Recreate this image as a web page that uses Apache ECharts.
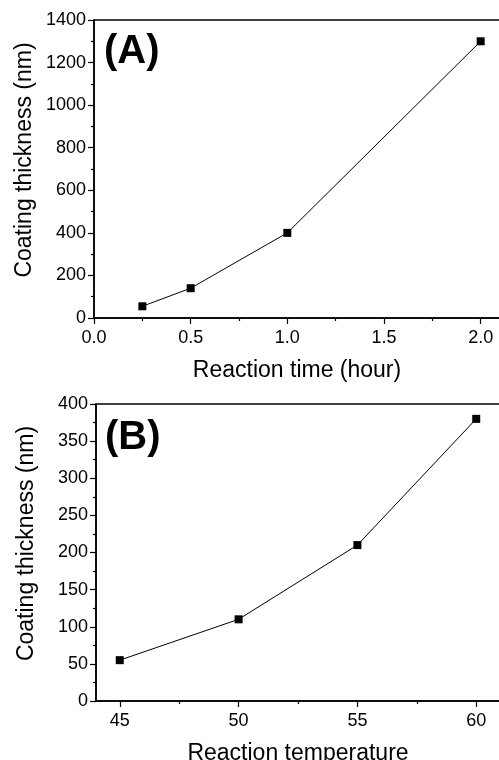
<!DOCTYPE html>
<html>
<head>
<meta charset="utf-8">
<script src="https://cdn.jsdelivr.net/npm/echarts@6/dist/echarts.min.js"></script>
<style>
  html, body { margin: 0; padding: 0; background: #fff; }
  #main { width: 499px; height: 760px; }
</style>
</head>
<body>
<div id="main"></div>
<script>
// panel A: thickness vs reaction time
const timeHours = [0.25, 0.5, 1.0, 2.0];
const thicknessByTime = [55, 140, 400, 1300];
const timeTicks = [0, 0.5, 1.0, 1.5, 2.0];
const timeMinorTicks = [0.25, 0.75, 1.25, 1.75];

// panel B: thickness vs reaction temperature
const temperatures = [45, 50, 55, 60];
const thicknessByTemp = [55, 110, 210, 380];
const tempTicks = [45, 50, 55, 60];
const tempMinorTicks = [47.5, 52.5, 57.5];

const font = 'Arial, "Liberation Sans", sans-serif';
const black = '#000';

const chart = echarts.init(document.getElementById('main'));

function majorX(gridIndex, min, max, ticks, name, fmt) {
  return {
    type: 'value',
    gridIndex: gridIndex,
    min: min,
    max: max,
    position: 'bottom',
    name: name,
    nameLocation: 'middle',
    nameGap: 41,
    nameMoveOverlap: false,
    nameTextStyle: { fontFamily: font, fontSize: 23, color: black },
    axisLine: { show: true, onZero: false, lineStyle: { color: black, width: 1.5 } },
    axisTick: { show: true, customValues: ticks, length: 6, lineStyle: { color: black, width: 1.2 } },
    axisLabel: { customValues: ticks, margin: 11, fontFamily: font, fontSize: 18, color: black, formatter: fmt },
    splitLine: { show: false }
  };
}

function minorX(gridIndex, min, max, ticks) {
  return {
    type: 'value',
    gridIndex: gridIndex,
    min: min,
    max: max,
    position: 'bottom',
    axisLine: { show: false, onZero: false },
    axisTick: { show: true, customValues: ticks, length: 3, lineStyle: { color: black, width: 1.2 } },
    axisLabel: { show: false },
    splitLine: { show: false }
  };
}

function yAxisFor(gridIndex, max, interval) {
  return {
    type: 'value',
    gridIndex: gridIndex,
    min: 0,
    max: max,
    interval: interval,
    name: 'Coating thickness (nm)',
    nameLocation: 'middle',
    nameGap: 58,
    nameMoveOverlap: false,
    nameTextStyle: { fontFamily: font, fontSize: 23, color: black, padding: [0, 0, 0, 18] },
    axisLine: { show: true, onZero: false, lineStyle: { color: black, width: 1.5 } },
    axisTick: { show: true, length: 6, lineStyle: { color: black, width: 1.2 } },
    minorTick: { show: true, splitNumber: 2, length: 3, lineStyle: { color: black, width: 1.2 } },
    axisLabel: { margin: 8, fontFamily: font, fontSize: 18, color: black, formatter: v => String(v) },
    splitLine: { show: false }
  };
}

function lineSeries(xIdx, yIdx, xs, ys) {
  return {
    type: 'line',
    xAxisIndex: xIdx,
    yAxisIndex: yIdx,
    data: xs.map((x, i) => [x, ys[i]]),
    symbol: 'rect',
    symbolSize: 8,
    itemStyle: { color: black },
    lineStyle: { color: black, width: 1 },
    clip: false
  };
}

const option = {
  backgroundColor: '#fff',
  animation: false,
  title: [
    { text: '(A)', left: 99, top: 27, textStyle: { fontFamily: font, fontSize: 40, fontWeight: 'bold', color: black } },
    { text: '(B)', left: 100, top: 413, textStyle: { fontFamily: font, fontSize: 40, fontWeight: 'bold', color: black } }
  ],
  grid: [
    { left: 94, top: 20, right: -1, height: 298, outerBoundsMode: 'none', show: true, borderColor: black, borderWidth: 1.5 },
    { left: 96, top: 404, right: -1, height: 297, outerBoundsMode: 'none', show: true, borderColor: black, borderWidth: 1.5 }
  ],
  xAxis: [
    majorX(0, 0, 2.1, timeTicks, 'Reaction time (hour)', v => v.toFixed(1)),
    minorX(0, 0, 2.1, timeMinorTicks),
    majorX(1, 44, 61, tempTicks, 'Reaction temperature', v => String(v)),
    minorX(1, 44, 61, tempMinorTicks)
  ],
  yAxis: [
    yAxisFor(0, 1400, 200),
    yAxisFor(1, 400, 50)
  ],
  series: [
    lineSeries(0, 0, timeHours, thicknessByTime),
    lineSeries(2, 1, temperatures, thicknessByTemp)
  ]
};

chart.setOption(option);
</script>
</body>
</html>
